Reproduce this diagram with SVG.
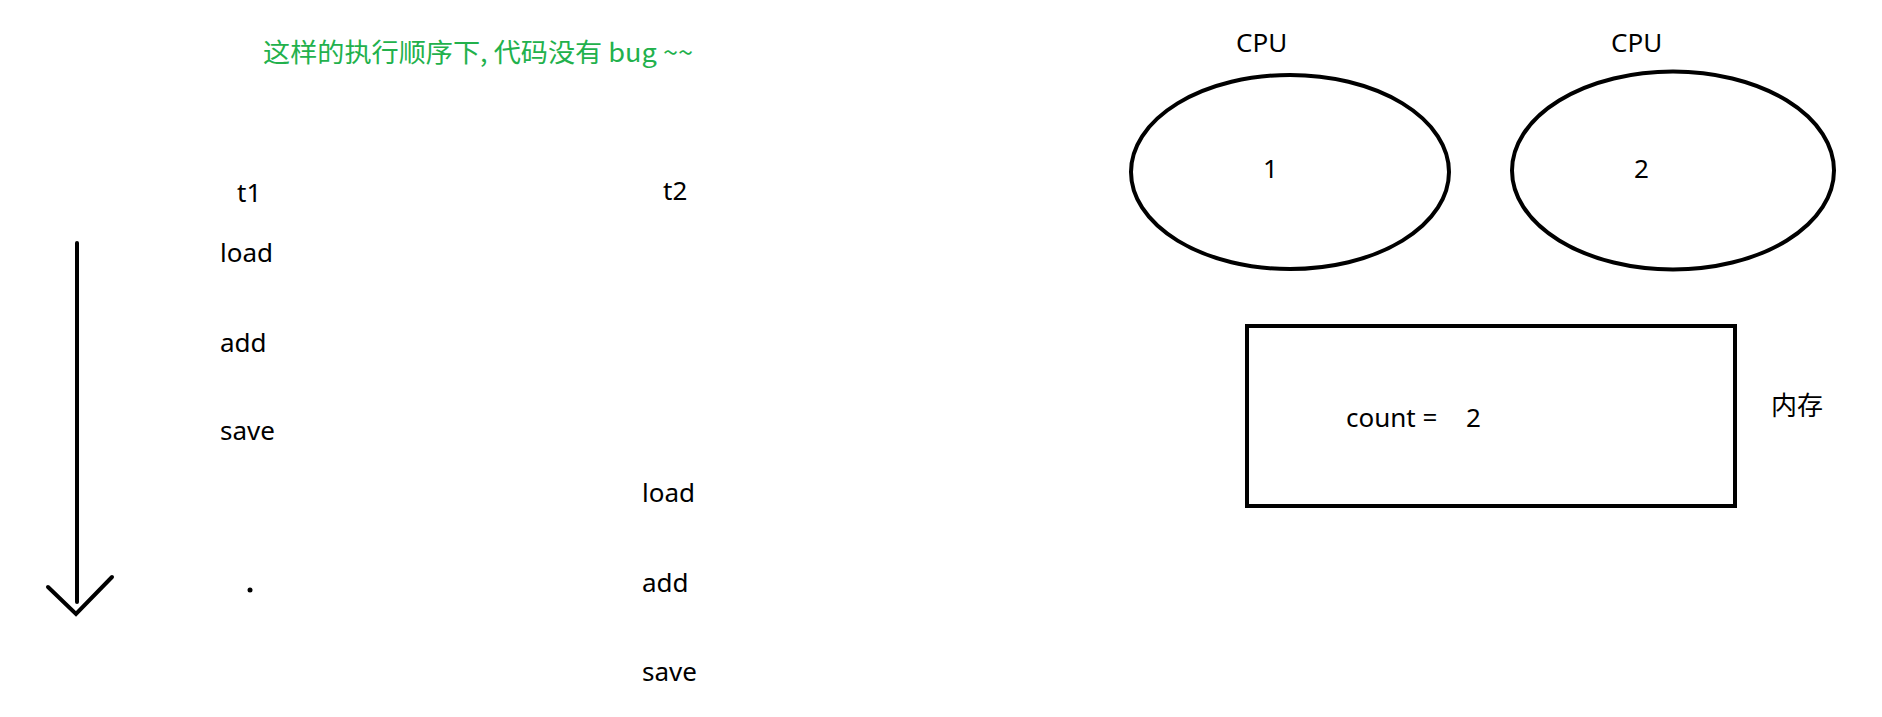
<svg xmlns="http://www.w3.org/2000/svg" width="1882" height="717" viewBox="0 0 1882 717">
<style>
  .t { font-family: "Noto Sans", "Noto Sans CJK SC", sans-serif; font-size: 26px; fill: #000; }
  .c { font-family: "Noto Sans CJK SC", sans-serif; font-size: 26px; fill: #000; }
  .title { font-family: "Noto Sans CJK SC", "Noto Sans", sans-serif; font-size: 26px; fill: #22b14c; }
  .shape { fill: none; stroke: #000; stroke-width: 4; }
  .line { fill: none; stroke: #000; stroke-width: 4; stroke-linecap: round; }
</style>
<rect width="1882" height="717" fill="#fff"/>
<text class="title" x="263" y="62" textLength="430" lengthAdjust="spacingAndGlyphs">这样的执行顺序下, 代码没有 bug ~~</text>

<g id="t1">
  <text class="t" x="237" y="202" font-size="25">t1</text>
  <text class="t" x="220" y="262">load</text>
  <text class="t" x="220" y="352">add</text>
  <text class="t" x="220" y="440">save</text>
  <circle cx="250" cy="590" r="2.5" fill="#000"/>
</g>
<g id="t2">
  <text class="t" x="663" y="200" font-size="25">t2</text>
  <text class="t" x="642" y="502">load</text>
  <text class="t" x="642" y="592">add</text>
  <text class="t" x="642" y="681">save</text>
</g>

<g id="connectors">
  <line class="line" x1="77" y1="243" x2="77" y2="602"/>
  <polyline class="line" points="48,587 76,614 112,577"/>
</g>

<g id="cpu1">
  <text class="t" x="1236" y="52">CPU</text>
  <ellipse class="shape" cx="1290" cy="172" rx="159" ry="97"/>
  <text class="t" x="1263" y="178">1</text>
</g>
<g id="cpu2">
  <text class="t" x="1611" y="52">CPU</text>
  <ellipse class="shape" cx="1673" cy="170.5" rx="161" ry="99"/>
  <text class="t" x="1634" y="178">2</text>
</g>
<g id="memory">
  <rect class="shape" x="1247" y="326" width="488" height="180"/>
  <text class="t" x="1346" y="427">count =<tspan x="1466">2</tspan></text>
  <text class="c" x="1771" y="415">内存</text>
</g>
</svg>
